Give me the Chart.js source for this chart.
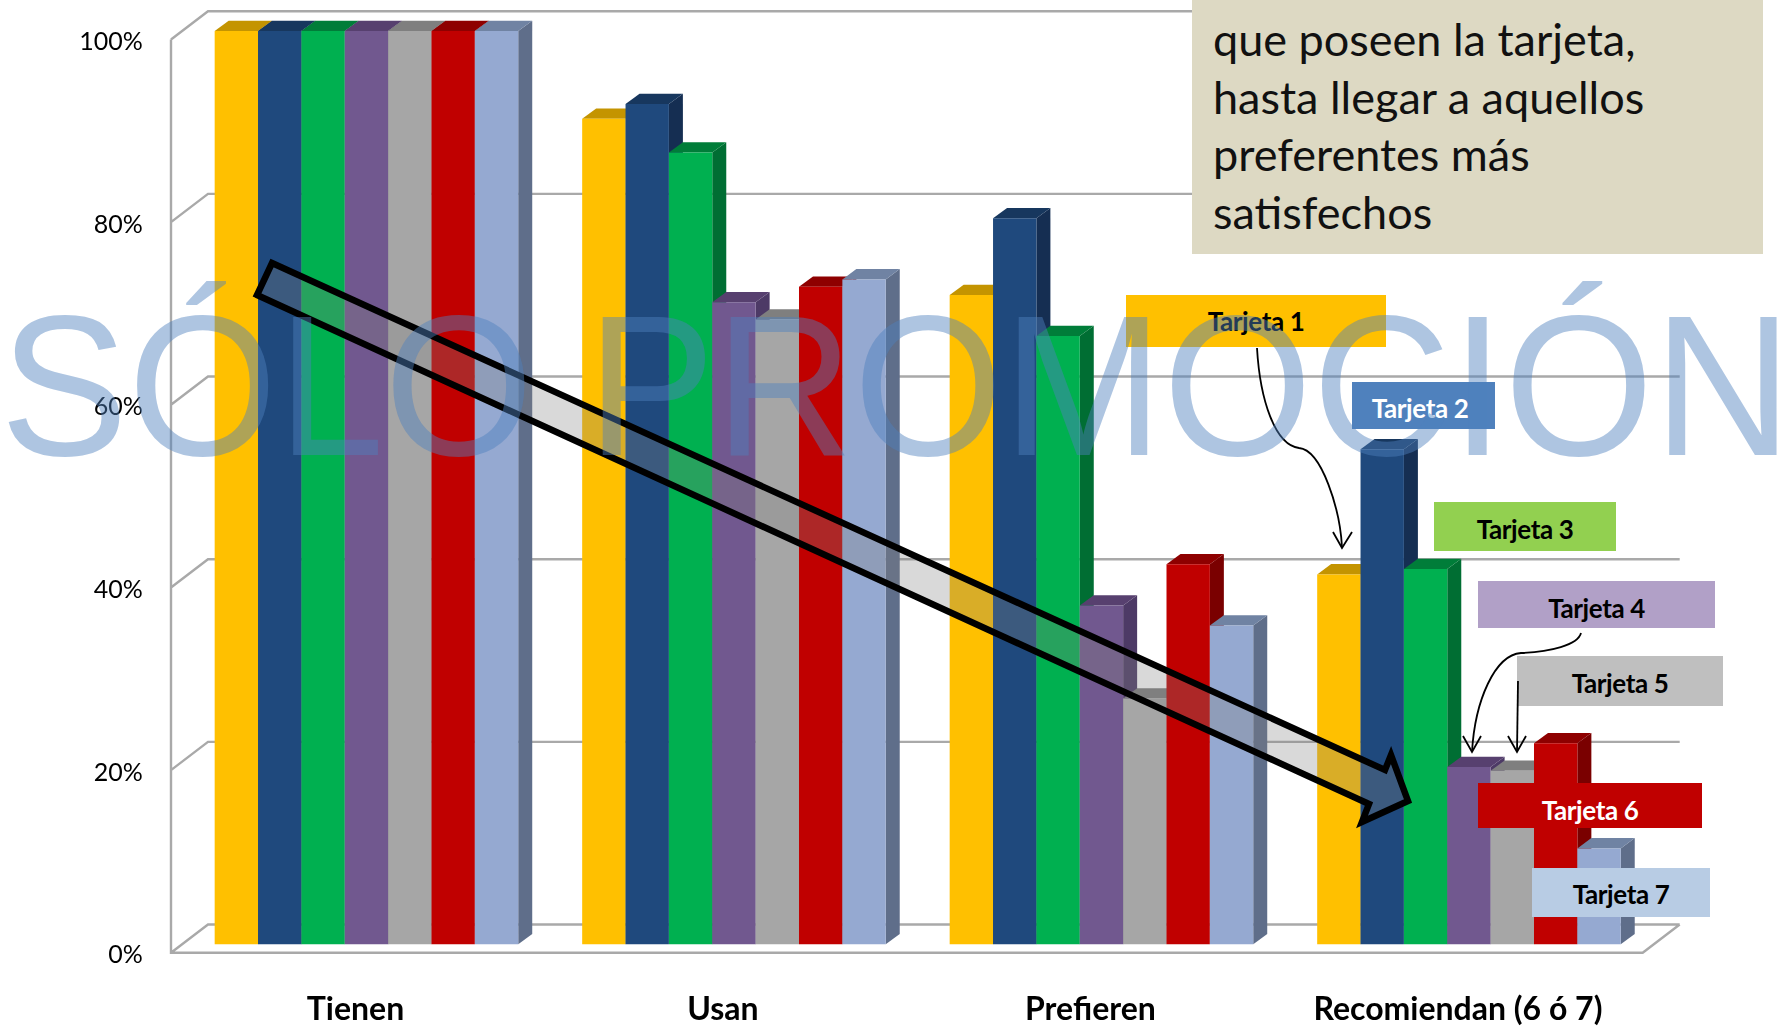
<!DOCTYPE html>
<html lang="es">
<head>
<meta charset="utf-8">
<title>Tarjetas</title>
<script src="https://cdn.jsdelivr.net/npm/chart.js@4/dist/chart.umd.min.js"></script>
<style>
html, body { margin: 0; padding: 0; background: #fff; overflow: hidden; }
#wrap { position: relative; width: 1777px; height: 1026px; font-family: Lato, sans-serif; }
#grafico { position: absolute; left: 0; top: 0; }
#flechas { position: absolute; left: 0; top: 0; }
.caja { position: absolute; box-sizing: border-box; display: flex; align-items: center; justify-content: center; font-weight: 700; font-size: 26px; letter-spacing: -0.4px; color: #000; }
#nota { position: absolute; left: 1192px; top: 0; width: 571px; height: 254px; background: #DDD9C3; color: #111; font-size: 45px; line-height: 57.7px; box-sizing: border-box; padding: 11px 0 0 21px; }
#marca { position: absolute; left: 0; top: 259px; font-family: "Liberation Sans", sans-serif; font-size: 192px; line-height: 260px; white-space: nowrap; color: rgba(79, 129, 189, 0.46); transform: scaleY(1.043); transform-origin: 0 196.6px; }
</style>
</head>
<body>
<div id="wrap">
  <canvas id="grafico" width="1777" height="1026"></canvas>
  <svg id="flechas" width="1777" height="1026" fill="none">
    <path d="M272,263 L1385,770 L1391,755 L1408,801 L1362,822 L1369,804 L257,295 Z" fill="rgba(128,128,128,0.3)" stroke="#000" stroke-width="6.5" stroke-miterlimit="6"/>
  </svg>
  <div class="caja" style="left:1126px;top:295px;width:260px;height:52px;background:#FFC000">Tarjeta 1</div>
  <div class="caja" style="left:1352px;top:382px;width:143px;height:47px;background:#4F81BD;color:#fff;padding:4px 7px 0 0">Tarjeta 2</div>
  <div class="caja" style="left:1434px;top:502px;width:182px;height:49px;background:#92D050;padding-top:4px">Tarjeta 3</div>
  <div class="caja" style="left:1478px;top:581px;width:237px;height:47px;background:#B1A0C7;padding-top:6px">Tarjeta 4</div>
  <div class="caja" style="left:1517px;top:656px;width:206px;height:50px;background:#BFBFBF;padding-top:4px">Tarjeta 5</div>
  <div class="caja" style="left:1478px;top:783px;width:224px;height:45px;background:#C00000;color:#fff;padding-top:8px">Tarjeta 6</div>
  <div class="caja" style="left:1532px;top:868px;width:178px;height:49px;background:#B8CCE4;padding-top:2px">Tarjeta 7</div>
  <svg width="1777" height="1026" fill="none" style="position:absolute;left:0;top:0" stroke="#000" stroke-width="1.8">
    <path d="M1257,348 C1260,400 1275,445 1299,448 C1322,450 1340,510 1342,547"/>
    <path d="M1333,532 L1342,548 L1352,532"/>
    <path d="M1581,633 C1578,645 1550,652 1521,653 C1495,655 1475,700 1472,752"/>
    <path d="M1463,736 L1472,752 L1481,736"/>
    <path d="M1518,681 L1517,752"/>
    <path d="M1508,736 L1517,752 L1526,736"/>
  </svg>
  <div id="nota">que poseen la tarjeta,<br>hasta llegar a aquellos<br>preferentes más<br>satisfechos</div>
  <div id="marca">SÓLO PROMOCIÓN</div>
</div>

<script>
var categorias = ['Tienen', 'Usan', 'Prefieren', 'Recomiendan (6 ó 7)'];
var etiquetasY = ['0%', '20%', '40%', '60%', '80%', '100%'];

var tarjeta1 = [100, 90.4, 71.1, 40.5];
var tarjeta2 = [100, 92.0, 79.5, 54.2];
var tarjeta3 = [100, 86.7, 66.6, 41.1];
var tarjeta4 = [100, 70.3, 37.1, 19.4];
var tarjeta5 = [100, 68.4, 26.9, 19.0];
var tarjeta6 = [100, 72.0, 41.6, 22.0];
var tarjeta7 = [100, 72.8, 34.9, 10.5];

var series = [tarjeta1, tarjeta2, tarjeta3, tarjeta4, tarjeta5, tarjeta6, tarjeta7];
var nombres = ['Tarjeta 1', 'Tarjeta 2', 'Tarjeta 3', 'Tarjeta 4', 'Tarjeta 5', 'Tarjeta 6', 'Tarjeta 7'];
var colorFrente = ['#FFC000', '#1F497D', '#00B050', '#71588F', '#A6A6A6', '#C00000', '#95A9D1'];
var colorArriba = ['#C49400', '#17375E', '#007D39', '#57406F', '#7F7F7F', '#8E0000', '#7083A3'];
var colorLado = ['#A67C00', '#152E52', '#006E33', '#4D3A66', '#707070', '#7A0000', '#5F6E8A'];

// profundidad de las barras, en pixeles
var fondoX = 14;
var fondoY = 10.3;

function poligono(ctx, puntos, color) {
    ctx.fillStyle = color;
    ctx.beginPath();
    ctx.moveTo(puntos[0], puntos[1]);
    for (var i = 2; i < puntos.length; i += 2) {
        ctx.lineTo(puntos[i], puntos[i + 1]);
    }
    ctx.closePath();
    ctx.fill();
}

// paredes y piso del grafico 3D, sacados de la escala Y
var paredes = {
    id: 'paredes',
    beforeDatasetsDraw: function (chart) {
        var ctx = chart.ctx;
        var area = chart.chartArea;
        var y = chart.scales.y;
        var xFrente = area.left - 11.7;
        var xAtras = area.left + 25.3;
        var xFin = area.right + 27;
        ctx.save();
        ctx.strokeStyle = '#A9A9A9';
        ctx.lineWidth = 2.4;
        ctx.beginPath();
        for (var v = 0; v <= 100; v += 20) {
            var p = y.getPixelForValue(v);
            ctx.moveTo(xFrente, p + 8.5);
            ctx.lineTo(xAtras, p - 19.8);
            ctx.lineTo(xFin, p - 19.8);
        }
        var cero = y.getPixelForValue(0);
        var cien = y.getPixelForValue(100);
        ctx.moveTo(xFrente, cien + 8.5);
        ctx.lineTo(xFrente, cero + 8.5);
        ctx.lineTo(area.right - 10, cero + 8.5);
        ctx.lineTo(xFin, cero - 19.8);
        ctx.stroke();
        ctx.restore();
    }
};

// barras con cara lateral y superior, de izquierda a derecha para que se tapen bien
var barras3d = {
    id: 'barras3d',
    beforeDatasetsDraw: function (chart) {
        var ctx = chart.ctx;
        ctx.save();
        for (var d = 0; d < chart.data.datasets.length; d++) {
            var barras = chart.getDatasetMeta(d).data;
            for (var i = 0; i < barras.length; i++) {
                var b = barras[i];
                var izq = b.x - b.width / 2;
                var der = b.x + b.width / 2;
                poligono(ctx, [der, b.y, der + fondoX, b.y - fondoY, der + fondoX, b.base - fondoY, der, b.base], colorLado[d]);
                poligono(ctx, [izq, b.y, izq + fondoX, b.y - fondoY, der + fondoX, b.y - fondoY, der, b.y], colorArriba[d]);
                b.draw(ctx);
            }
        }
        ctx.restore();
        return false;
    }
};

new Chart(document.getElementById('grafico'), {
    type: 'bar',
    data: {
        labels: categorias,
        datasets: series.map(function (valores, i) {
            return {
                label: nombres[i],
                data: valores,
                backgroundColor: colorFrente[i],
                borderWidth: 0,
                barPercentage: 1,
                categoryPercentage: 0.826
            };
        })
    },
    options: {
        responsive: false,
        animation: false,
        devicePixelRatio: 1,
        layout: { padding: { top: 31, right: 124.3, left: 0, bottom: 0 } },
        plugins: { legend: { display: false }, tooltip: { enabled: false } },
        scales: {
            x: {
                grid: { display: false },
                border: { display: false },
                afterFit: function (eje) { eje.height = 81.7; },
                ticks: {
                    padding: 38,
                    labelOffset: -11,
                    maxRotation: 0,
                    autoSkip: false,
                    color: '#000',
                    font: { family: 'Lato', size: 32, weight: 'bold' }
                }
            },
            y: {
                min: 0,
                max: 100,
                grid: { display: false, drawTicks: false },
                border: { display: false },
                afterFit: function (eje) { eje.width = 182.7; eje.paddingTop = 0; eje.paddingBottom = 0; },
                ticks: {
                    stepSize: 20,
                    padding: 40,
                    labelOffset: 11,
                    color: '#000',
                    font: { family: 'Lato', size: 25 },
                    callback: function (valor) { return etiquetasY[valor / 20]; }
                }
            }
        }
    },
    plugins: [paredes, barras3d]
});
</script>
</body>
</html>
